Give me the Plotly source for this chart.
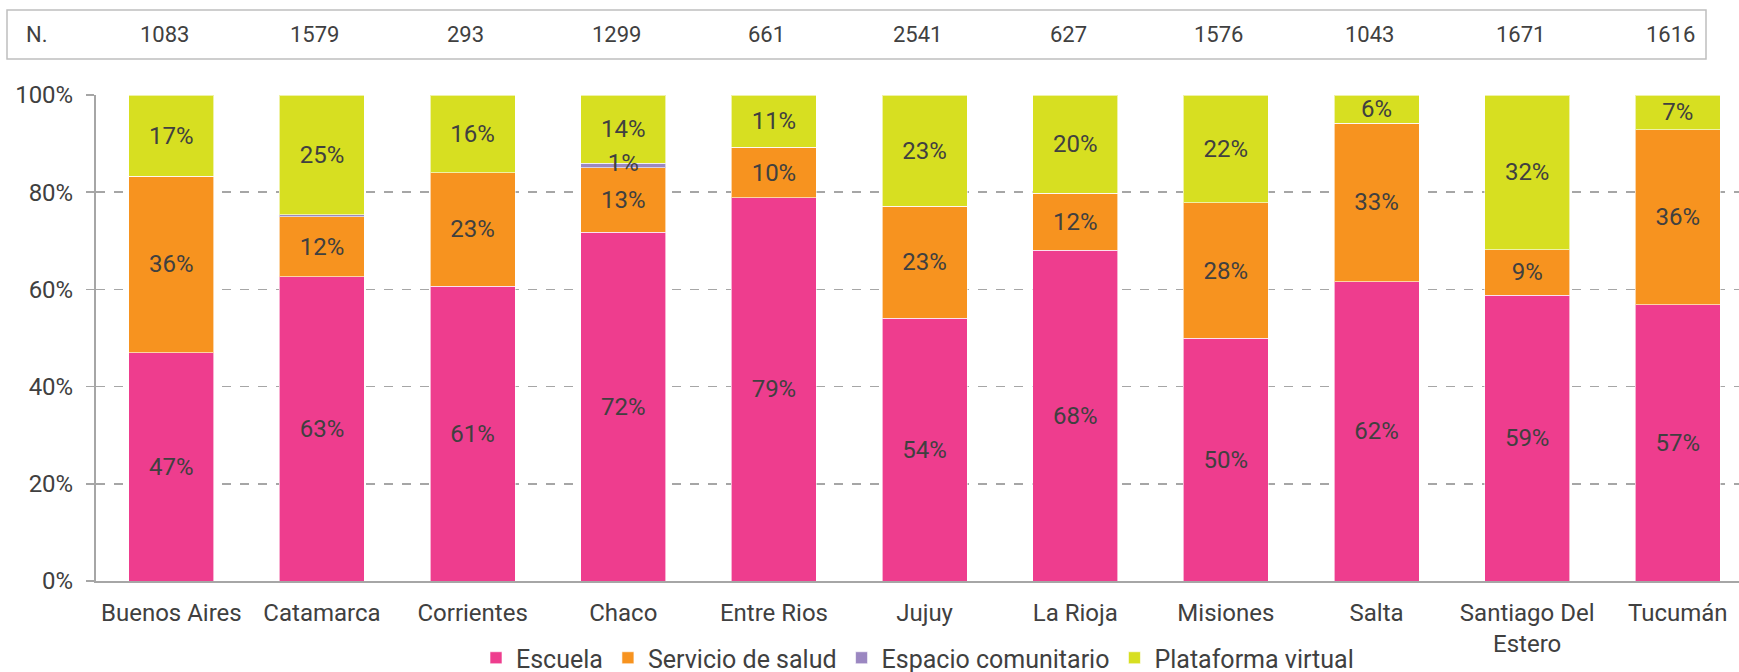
import plotly.graph_objects as go

provincias = ["Buenos Aires", "Catamarca", "Corrientes", "Chaco", "Entre Rios", "Jujuy",
              "La Rioja", "Misiones", "Salta", "Santiago Del<br>Estero", "Tucumán"]
n_casos = [1083, 1579, 293, 1299, 661, 2541, 627, 1576, 1043, 1671, 1616]

escuela = [47.0, 62.6, 60.7, 71.8, 78.9, 54.1, 68.1, 49.9, 61.6, 58.8, 56.8]
servicio_salud = [36.3, 12.3, 23.3, 13.2, 10.3, 23.0, 11.7, 27.9, 32.6, 9.4, 36.0]
espacio_comunitario = [0.0, 0.5, 0.0, 1.0, 0.0, 0.0, 0.0, 0.0, 0.0, 0.0, 0.0]
plataforma_virtual = [16.7, 24.6, 16.0, 14.0, 10.8, 22.9, 20.2, 22.2, 5.8, 31.8, 7.2]

y_ticks = [0, 20, 40, 60, 80, 100]
y_tick_labels = ["0%", "20%", "40%", "60%", "80%", "100%"]

series = [
    ("Escuela", escuela, "#EE3D8E"),
    ("Servicio de salud", servicio_salud, "#F7931F"),
    ("Espacio comunitario", espacio_comunitario, "#9B87C1"),
    ("Plataforma virtual", plataforma_virtual, "#D7DF21"),
]

FONT = "Roboto"
TXT = "#404040"
FS = 24
FS_N = 22

fig = go.Figure()
for name, vals, color in series:
    is_thin = name == "Espacio comunitario"
    labels = [f"{v:.0f}%" if (v >= 1 and not is_thin) else "" for v in vals]
    fig.add_trace(go.Bar(
        x=provincias, y=vals, name=name,
        marker=dict(color=color, line=dict(color="rgba(255,255,255,0.6)", width=1)),
        text=labels, textposition="inside", insidetextanchor="middle",
        constraintext="none", cliponaxis=False,
        textfont=dict(family=FONT, size=FS, color=TXT),
        hoverinfo="skip",
    ))

# labels of the thin segment drawn on top of all bars
thin_x, thin_y, thin_t = [], [], []
for p, e, s, c in zip(provincias, escuela, servicio_salud, espacio_comunitario):
    if c >= 1:
        thin_x.append(p)
        thin_y.append(e + s + c / 2)
        thin_t.append(f"{c:.0f}%")
fig.add_trace(go.Scatter(
    x=thin_x, y=thin_y, text=thin_t, mode="text", showlegend=False,
    textfont=dict(family=FONT, size=FS, color=TXT), textposition="middle center",
    hoverinfo="skip", cliponaxis=False,
))

PLOT_L, PLOT_R, PLOT_T, PLOT_B = 96, 1739, 95, 581
W = PLOT_R - PLOT_L
H = PLOT_B - PLOT_T
def px(x):
    return (x - PLOT_L) / W
def py(y):
    return (PLOT_B - y) / H

# N row box
fig.add_shape(type="rect", xref="paper", yref="paper",
              x0=px(7), x1=px(1706), y0=py(59), y1=py(10),
              line=dict(color="#BFBFBF", width=1.5), fillcolor="rgba(0,0,0,0)")
fig.add_annotation(xref="paper", yref="paper", x=px(37), y=py(35), text="N.",
                   showarrow=False, font=dict(family=FONT, size=FS_N, color=TXT),
                   xanchor="center", yanchor="middle")
for prov, n in zip(provincias, n_casos):
    fig.add_annotation(xref="x", yref="paper", x=prov, y=py(35), text=str(n),
                       showarrow=False, font=dict(family=FONT, size=FS_N, color=TXT),
                       xanchor="center", yanchor="middle", xshift=-7)

fig.update_layout(
    barmode="stack",
    bargap=0.436,
    width=1739, height=672,
    margin=dict(l=PLOT_L, r=1739 - PLOT_R, t=PLOT_T, b=672 - PLOT_B, autoexpand=False),
    paper_bgcolor="white", plot_bgcolor="white",
    font=dict(family=FONT, size=FS, color=TXT),
    uniformtext=dict(minsize=FS, mode="show"),
    legend=dict(orientation="h", x=0.5, xanchor="center", y=py(658), yanchor="middle",
                font=dict(family=FONT, size=25, color=TXT), traceorder="normal",
                itemclick=False, itemdoubleclick=False),
    showlegend=True,
)
fig.update_xaxes(
    range=[-0.5, -0.5 + W / 150.65],
    showline=True, linecolor="#A6A6A6", linewidth=2,
    showgrid=False, ticks="", tickfont=dict(family=FONT, size=FS, color=TXT),
    ticklabelstandoff=9,
    fixedrange=True,
)
fig.update_yaxes(
    range=[0, 100], tickvals=y_ticks, ticktext=y_tick_labels,
    showline=True, linecolor="#A6A6A6", linewidth=2,
    showgrid=True, gridcolor="#A6A6A6", griddash="dash", gridwidth=1.5,
    ticks="outside", ticklen=8, tickcolor="#A6A6A6", tickwidth=1.5,
    ticklabelstandoff=8,
    tickfont=dict(family=FONT, size=FS, color=TXT),
    zeroline=False, fixedrange=True,
)

fig.write_html("out.html", config={"displayModeBar": False, "staticPlot": True},
               post_script="document.body.style.margin='0';document.body.style.overflow='hidden';")
